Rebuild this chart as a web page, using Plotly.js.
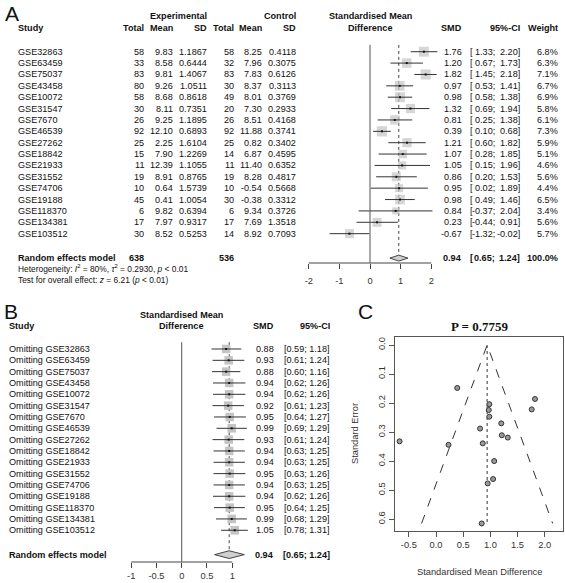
<!DOCTYPE html>
<html><head><meta charset="utf-8">
<script src="https://cdn.plot.ly/plotly-3.0.1.min.js"></script>
<style>html,body{margin:0;padding:0;background:#fff}</style>
</head><body><div id="chart" style="width:565px;height:583px"></div>
<script>
// ---------- data ----------
const studies = ["GSE32863","GSE63459","GSE75037","GSE43458","GSE10072","GSE31547","GSE7670","GSE46539","GSE27262","GSE18842","GSE21933","GSE31552","GSE74706","GSE19188","GSE118370","GSE134381","GSE103512"];
const expTotal = [58,33,83,80,58,30,26,92,25,15,11,19,10,45,6,17,30];
const expMean  = [9.83,8.58,9.81,9.26,8.68,8.11,9.25,12.10,2.25,7.90,12.39,8.91,0.64,0.41,9.82,7.97,8.52];
const expSD    = [1.1867,0.6444,1.4067,1.0511,0.8618,0.7351,1.1895,0.6893,1.6104,1.2269,1.1055,0.8765,1.5739,1.0054,0.6394,0.9317,0.5253];
const ctlTotal = [58,32,83,30,49,20,26,92,25,14,11,19,10,30,6,17,14];
const ctlMean  = [8.25,7.96,7.83,8.37,8.01,7.30,8.51,11.88,0.82,6.87,11.40,8.28,-0.54,-0.38,9.34,7.69,8.92];
const ctlSD    = [0.4118,0.3075,0.6126,0.3113,0.3769,0.2933,0.4168,0.3741,0.3402,0.4595,0.6352,0.4817,0.5668,0.3312,0.3726,1.3518,0.7093];
const smd      = [1.76,1.20,1.82,0.97,0.98,1.32,0.81,0.39,1.21,1.07,1.05,0.86,0.95,0.98,0.84,0.23,-0.67];
const ciLo     = [1.33,0.67,1.45,0.53,0.58,0.69,0.25,0.10,0.60,0.28,0.15,0.20,0.02,0.49,-0.37,-0.44,-1.32];
const ciHi     = [2.20,1.73,2.18,1.41,1.38,1.94,1.38,0.68,1.82,1.85,1.96,1.53,1.89,1.46,2.04,0.91,-0.02];
const weight   = [6.8,6.3,7.1,6.7,6.9,5.8,6.1,7.3,5.9,5.1,4.6,5.6,4.4,6.5,3.4,5.6,5.7];
const pooledTotals = [638,536];
const pooled = {est:0.94, lo:0.65, hi:1.24, w:100.0};

// leave-one-out (panel B)
const omitSMD = [0.88,0.93,0.88,0.94,0.94,0.92,0.95,0.99,0.93,0.94,0.94,0.95,0.94,0.94,0.95,0.99,1.05];
const omitLo  = [0.59,0.61,0.60,0.62,0.62,0.61,0.64,0.69,0.61,0.63,0.63,0.63,0.63,0.62,0.64,0.68,0.78];
const omitHi  = [1.18,1.24,1.16,1.26,1.26,1.23,1.27,1.29,1.24,1.25,1.25,1.26,1.25,1.26,1.25,1.29,1.31];

// funnel plot (panel C): standard errors
const funnelSE = [0.222,0.270,0.186,0.224,0.204,0.319,0.288,0.148,0.311,0.400,0.462,0.339,0.477,0.247,0.615,0.344,0.332];
const funnelTitle = "P = 0.7759";

const tickA = [-2,-1,0,1,2];
const tickB = [-1,-0.5,0,0.5,1];
const tickCx = [-0.5,0,0.5,1,1.5,2];
const tickCy = [0,0.1,0.2,0.3,0.4,0.5,0.6];

// ---------- layout helpers ----------
const W = 565, H = 583;
const F = "Liberation Sans, Arial, sans-serif";
const FS = 9.1;
const RE_ROW = 18.15;
const annotations = [];
function add(text, xpx, y, yref, xanchor, size, extra) {
  annotations.push(Object.assign({
    text: String(text), x: xpx / W, xref: 'paper',
    y: yref === 'paper' ? 1 - y / H : y, yref: yref,
    xanchor: xanchor, yanchor: 'middle', showarrow: false, borderpad: 0,
    font: {family: F, size: size || FS, color: '#111'}
  }, extra || {}));
}
const b = s => '<b>' + s + '</b>';

// panel letters
add('A', 4, 13, 'paper', 'left', 21);
add('B', 3, 311, 'paper', 'left', 21);
add('C', 357, 311, 'paper', 'left', 21);

// ---------- panel A text ----------
add(b('Experimental'), 178, 16, 'paper', 'center');
add(b('Control'), 280, 16, 'paper', 'center');
add(b('Standardised Mean'), 370, 16, 'paper', 'center');
add(b('Study'), 17, 28, 'paper', 'left');
add(b('Total'), 145, 28, 'paper', 'right');
add(b('Mean'), 174, 28, 'paper', 'right');
add(b('SD'), 208, 28, 'paper', 'right');
add(b('Total'), 235, 28, 'paper', 'right');
add(b('Mean'), 263, 28, 'paper', 'right');
add(b('SD'), 297, 28, 'paper', 'right');
add(b('Difference'), 370, 28, 'paper', 'center');
add(b('SMD'), 463, 28, 'paper', 'right');
add(b('95%-CI'), 521, 28, 'paper', 'right');
add(b('Weight'), 559, 28, 'paper', 'right');

for (let i = 0; i < studies.length; i++) {
  add(studies[i], 17, i, 'y', 'left');
  add(expTotal[i], 145, i, 'y', 'right');
  add(expMean[i].toFixed(2), 174, i, 'y', 'right');
  add(expSD[i].toFixed(4), 208, i, 'y', 'right');
  add(ctlTotal[i], 235, i, 'y', 'right');
  add(ctlMean[i].toFixed(2), 263, i, 'y', 'right');
  add(ctlSD[i].toFixed(4), 297, i, 'y', 'right');
  add(smd[i].toFixed(2), 463, i, 'y', 'right');
  add('[', 468.5, i, 'y', 'left');
  add(ciLo[i].toFixed(2) + ';', 496, i, 'y', 'right');
  add(ciHi[i].toFixed(2) + ']', 521, i, 'y', 'right');
  add(weight[i].toFixed(1) + '%', 559, i, 'y', 'right');
}
add(b('Random effects model'), 17, RE_ROW, 'y', 'left');
add(b(pooledTotals[0]), 145, RE_ROW, 'y', 'right');
add(b(pooledTotals[1]), 235, RE_ROW, 'y', 'right');
add(b(pooled.est.toFixed(2)), 463, RE_ROW, 'y', 'right');
add(b('['), 468.5, RE_ROW, 'y', 'left');
add(b(pooled.lo.toFixed(2) + ';'), 496, RE_ROW, 'y', 'right');
add(b(pooled.hi.toFixed(2) + ']'), 521, RE_ROW, 'y', 'right');
add(b(pooled.w.toFixed(1) + '%'), 559, RE_ROW, 'y', 'right');
add('Heterogeneity: <i>I</i><sup>2</sup> = 80%, <i>τ</i><sup>2</sup> = 0.2930, <i>p</i> &lt; 0.01', 17, 269, 'paper', 'left', 8.4);
add('Test for overall effect: <i>z</i> = 6.21 (<i>p</i> &lt; 0.01)', 17, 280, 'paper', 'left', 8.4);

// ---------- panel B text ----------
add(b('Standardised Mean'), 181, 315, 'paper', 'center');
add(b('Study'), 8, 326, 'paper', 'left');
add(b('Difference'), 181, 326, 'paper', 'center');
add(b('SMD'), 275, 326, 'paper', 'right');
add(b('95%-CI'), 331, 326, 'paper', 'right');
for (let i = 0; i < studies.length; i++) {
  add('Omitting ' + studies[i], 8, i, 'y2', 'left');
  add(omitSMD[i].toFixed(2), 275, i, 'y2', 'right');
  add('[' + omitLo[i].toFixed(2) + '; ' + omitHi[i].toFixed(2) + ']', 331, i, 'y2', 'right');
}
add(b('Random effects model'), 8, RE_ROW, 'y2', 'left');
add(b(pooled.est.toFixed(2)), 275, RE_ROW, 'y2', 'right');
add(b('[' + pooled.lo.toFixed(2) + '; ' + pooled.hi.toFixed(2) + ']'), 331, RE_ROW, 'y2', 'right');

// ---------- panel C text ----------
add('<b>' + funnelTitle + '</b>', 479, 326, 'paper', 'center', 13, {font: {family: 'Liberation Serif, Times New Roman, serif', size: 13, color: '#111'}});
add('Standardised Mean Difference', 479, 572, 'paper', 'center', 9.3, {font: {family: F, size: 9.3, color: '#333'}});
add('Standard Error', 355, 434, 'paper', 'center', 9.3, {textangle: -90, font: {family: F, size: 9.3, color: '#333'}});

// ---------- traces ----------
const rows = studies.map((_, i) => i);
function segs(lo, hi) {
  const x = [], y = [];
  for (let i = 0; i < lo.length; i++) { x.push(lo[i], hi[i], null); y.push(i, i, null); }
  return {x, y};
}
const boxSize = weight.map(w => 3.8 * Math.sqrt(w));
const sA = segs(ciLo, ciHi);
const sB = segs(omitLo, omitHi);
const traces = [
  // panel A
  {type: 'scatter', mode: 'markers', x: smd, y: rows, xaxis: 'x', yaxis: 'y',
   marker: {symbol: 'square', size: boxSize, color: '#c4c4c4', line: {width: 0}}, hoverinfo: 'skip'},
  {type: 'scatter', mode: 'lines', x: sA.x, y: sA.y, xaxis: 'x', yaxis: 'y',
   line: {color: '#333', width: 1}, connectgaps: false, hoverinfo: 'skip'},
  {type: 'scatter', mode: 'markers', x: smd, y: rows, xaxis: 'x', yaxis: 'y',
   marker: {symbol: 'square', size: 2, color: '#111'}, hoverinfo: 'skip'},
  {type: 'scatter', mode: 'lines', fill: 'toself', fillcolor: '#cfcfcf',
   x: [pooled.lo, pooled.est, pooled.hi, pooled.est, pooled.lo],
   y: [RE_ROW, RE_ROW - 0.26, RE_ROW, RE_ROW + 0.26, RE_ROW], xaxis: 'x', yaxis: 'y',
   line: {color: '#444', width: 1}, hoverinfo: 'skip'},
  // panel B
  {type: 'scatter', mode: 'markers', x: omitSMD, y: rows, xaxis: 'x2', yaxis: 'y2',
   marker: {symbol: 'square', size: 8.5, color: '#c4c4c4', line: {width: 0}}, hoverinfo: 'skip'},
  {type: 'scatter', mode: 'lines', x: sB.x, y: sB.y, xaxis: 'x2', yaxis: 'y2',
   line: {color: '#333', width: 1}, connectgaps: false, hoverinfo: 'skip'},
  {type: 'scatter', mode: 'markers', x: omitSMD, y: rows, xaxis: 'x2', yaxis: 'y2',
   marker: {symbol: 'square', size: 2, color: '#111'}, hoverinfo: 'skip'},
  {type: 'scatter', mode: 'lines', fill: 'toself', fillcolor: '#cfcfcf',
   x: [pooled.lo, pooled.est, pooled.hi, pooled.est, pooled.lo],
   y: [RE_ROW, RE_ROW - 0.34, RE_ROW, RE_ROW + 0.34, RE_ROW], xaxis: 'x2', yaxis: 'y2',
   line: {color: '#444', width: 1}, hoverinfo: 'skip'}
];
// panel C
const seMax = Math.max(...funnelSE);
traces.push(
  {type: 'scatter', mode: 'lines', x: [pooled.est - 1.96 * seMax, pooled.est, pooled.est + 1.96 * seMax],
   y: [seMax, 0, seMax], xaxis: 'x3', yaxis: 'y3', line: {color: '#333', width: 1, dash: 'dash'}, hoverinfo: 'skip'},
  {type: 'scatter', mode: 'lines', x: [pooled.est, pooled.est], y: [0, seMax], xaxis: 'x3', yaxis: 'y3',
   line: {color: '#333', width: 1, dash: 'dot'}, hoverinfo: 'skip'},
  {type: 'scatter', mode: 'markers', x: smd, y: funnelSE, xaxis: 'x3', yaxis: 'y3',
   marker: {symbol: 'circle', size: 5, color: '#9a9a9a', line: {color: '#333', width: 1}}, hoverinfo: 'skip'}
);

// ---------- axes / shapes ----------
const yA = [1 - 263 / H, 1 - 40 / H];
const yB = [1 - 562 / H, 1 - 338 / H];
const tickFont = {family: F, size: 9.3, color: '#333'};
const shapes = [
  {type: 'line', xref: 'x', yref: 'paper', x0: tickA[0], x1: tickA[tickA.length - 1], y0: yA[0], y1: yA[0], line: {color: '#444', width: 1}},
  {type: 'line', xref: 'x2', yref: 'paper', x0: tickB[0], x1: tickB[tickB.length - 1], y0: yB[0], y1: yB[0], line: {color: '#444', width: 1}},
  {type: 'line', xref: 'x', yref: 'y', x0: 0, x1: 0, y0: -0.6, y1: 18.58, line: {color: '#555', width: 1}},
  {type: 'line', xref: 'x2', yref: 'y2', x0: 0, x1: 0, y0: -0.6, y1: 18.8, line: {color: '#555', width: 1}},
  {type: 'line', xref: 'x', yref: 'y', x0: pooled.est, x1: pooled.est, y0: -0.6, y1: RE_ROW - 0.26, line: {color: '#444', width: 1, dash: 'dot'}, layer: 'below'},
  {type: 'line', xref: 'x2', yref: 'y2', x0: pooled.est, x1: pooled.est, y0: -0.6, y1: RE_ROW - 0.34, line: {color: '#444', width: 1, dash: 'dot'}, layer: 'below'}
];

const layout = {
  width: W, height: H, margin: {l: 0, r: 0, t: 0, b: 0},
  paper_bgcolor: '#fff', plot_bgcolor: 'rgba(0,0,0,0)', showlegend: false,
  font: {family: F, size: FS, color: '#111'},
  xaxis: {domain: [280 / W, 460 / W], range: [-2.94, 2.94], anchor: 'y', tickvals: tickA, ticktext: tickA.map(String),
          ticks: 'outside', ticklen: 5, tickcolor: '#444', ticklabelstandoff: 4, showline: false, zeroline: false, showgrid: false, tickfont: tickFont, fixedrange: true},
  yaxis: {domain: yA, range: [18.58, -1.03], visible: false, fixedrange: true},
  xaxis2: {domain: [100 / W, 255 / W], range: [-1.618, 1.451], anchor: 'y2', tickvals: tickB, ticktext: tickB.map(String),
           ticks: 'outside', ticklen: 5, tickcolor: '#444', showline: false, zeroline: false, showgrid: false, tickfont: tickFont, fixedrange: true},
  yaxis2: {domain: yB, range: [18.8, -0.97], visible: false, fixedrange: true},
  xaxis3: {domain: [395 / W, 563 / W], range: [-0.754, 2.335], anchor: 'y3', tickvals: tickCx, ticktext: tickCx.map(v => v.toFixed(1)),
           ticks: 'outside', ticklen: 5, tickcolor: '#555', showline: true, mirror: true, linecolor: '#555', linewidth: 1,
           zeroline: false, showgrid: false, tickfont: tickFont, fixedrange: true},
  yaxis3: {domain: [1 - 531 / H, 1 - 337 / H], range: [0.641, -0.0276], anchor: 'x3', tickvals: tickCy, ticktext: tickCy.map(v => v.toFixed(1)),
           tickangle: -90, ticks: 'outside', ticklen: 5, tickcolor: '#555', showline: true, mirror: true, linecolor: '#555', linewidth: 1,
           zeroline: false, showgrid: false, tickfont: tickFont, fixedrange: true},
  shapes: shapes,
  annotations: annotations
};
Plotly.newPlot('chart', traces, layout, {staticPlot: true, displayModeBar: false});
</script>
</body></html>
